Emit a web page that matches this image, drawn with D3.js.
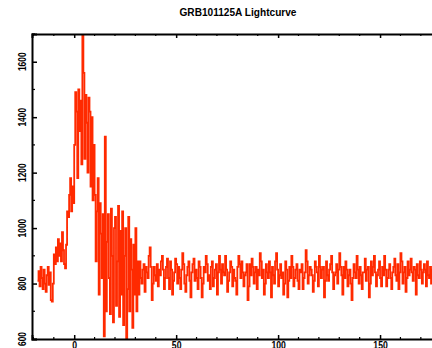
<!DOCTYPE html>
<html><head><meta charset="utf-8">
<script src="https://cdn.jsdelivr.net/npm/d3@7"></script>
<style>html,body{margin:0;padding:0;background:#fff;overflow:hidden}</style>
</head><body>
<script>
const title = "GRB101125A Lightcurve";
const startTime = -18;   // time of first bin (s)
const binSize = 0.5;     // s
const counts = [
  // -18 .. -8.5
  810, 845, 790, 860, 820, 780, 850, 800, 770, 830, 860, 795, 840, 740, 735, 800, 905, 870, 930, 880,
  // -8 .. -2.5
  960, 900, 945, 880, 985, 920, 870, 855, 940, 1060, 1040, 1120,
  // -2 .. -0.5
  1180, 1060, 1150, 1090,
  // 0 .. 9.5
  1300, 1490, 1420, 1180, 1500, 1350, 1460, 1230, 1720, 1560, 1250, 1480, 1380, 1200, 1470, 1420, 1150, 1400, 1100, 1300,
  // 10 .. 19.5
  1120, 880, 1060, 1180, 760, 1090, 980, 820, 1050, 610, 1330, 700, 950, 1050, 820, 690, 1070, 900, 660, 1000,
  // 20 .. 31.5
  1040, 720, 880, 1080, 680, 990, 760, 1060, 650, 900, 1000, 600, 780, 1040, 700, 960, 850, 640, 940, 760, 1000, 700, 880, 760,
  // 32 ..
  880, 820, 800, 850, 870, 770, 860, 840, 820, 900, 930, 860, 740, 800, 860, 830, 810, 870, 790, 850,
  830, 880, 900, 850, 780, 820, 860, 890, 820, 780, 880, 850, 760, 810, 840, 890, 870, 800, 860, 820,
  780, 850, 910, 870, 800, 770, 830, 860, 880, 810, 750, 840, 870, 890, 810, 850, 820, 780, 880, 860,
  820, 750, 800, 860, 840, 900, 870, 810, 830, 780, 860, 880, 790, 820, 850, 870, 760, 840, 900, 850,
  800, 870, 840, 830, 900, 850, 770, 810, 840, 880, 860, 790, 850, 820, 810, 760, 860, 900, 870, 820,
  880, 840, 790, 830, 840, 870, 740, 790, 870, 830, 890, 860, 800, 840, 860, 780, 850, 830, 910, 880,
  820, 850, 760, 800, 870, 840, 820, 880, 840, 750, 860, 830, 800, 880, 910, 850, 790, 830, 870, 820,
  840, 760, 800, 880, 850, 750, 810, 860, 820, 900, 860, 790, 820, 850, 870, 810, 780, 850, 840, 870,
  780, 820, 840, 920, 880, 800, 830, 860, 850, 830, 770, 810, 880, 860, 840, 790, 900, 860, 820, 850,
  860, 750, 810, 880, 830, 810, 850, 870, 900, 840, 780, 830, 840, 870, 800, 850, 910, 860, 830, 760,
  860, 820, 880, 850, 790, 830, 850, 800, 740, 820, 870, 840, 820, 900, 850, 800, 860, 830, 780, 840,
  840, 890, 810, 850, 860, 750, 800, 880, 830, 860, 900, 840, 790, 830, 850, 880, 820, 790, 860, 830,
  900, 850, 790, 820, 850, 870, 820, 780, 840, 860, 890, 830, 810, 870, 780, 840, 910, 880, 800, 840,
  860, 770, 820, 880, 830, 850, 890, 840, 810, 860, 850, 760, 870, 830, 820, 880, 850, 800, 840, 870,
  850, 790, 880, 830, 820, 860, 800, 850, 870, 820, 840, 880
];
const xMajorTicks = [0, 50, 100, 150];
const yMajorTicks = [600, 800, 1000, 1200, 1400, 1600];

const W = 432, H = 348;
const mLeft = 32, mTop = 34, mBottom = 339, mRight = 482;
const svg = d3.select("body").append("svg").attr("width", W).attr("height", H);

const x = d3.scaleLinear().domain([-20.7, 200]).range([mLeft, mRight]);
const y = d3.scaleLinear().domain([600, 1700]).range([mBottom, mTop]);

const data = counts.map((v, i) => ({t: startTime + i * binSize, v}));

svg.append("defs").append("clipPath").attr("id", "clip")
  .append("rect").attr("x", mLeft).attr("y", mTop).attr("width", mRight - mLeft).attr("height", mBottom - mTop);

const line = d3.line().x(d => x(d.t)).y(d => y(d.v)).curve(d3.curveStepAfter);
svg.append("path").datum(data).attr("clip-path", "url(#clip)")
  .attr("d", line).attr("fill", "none").attr("stroke", "#ff2a00")
  .attr("stroke-width", 1.8).attr("stroke-linejoin", "miter");

const xMinor = d3.range(-20, 201, 10).filter(v => !xMajorTicks.includes(v));
const yMinor = d3.range(700, 1701, 100).filter(v => !yMajorTicks.includes(v));

const fontFam = "Liberation Sans, Arial, sans-serif";

const axB = svg.append("g").attr("transform", `translate(0,${mBottom})`)
  .call(d3.axisBottom(x).tickValues(xMajorTicks).tickSize(-4).tickFormat(d3.format("d")).tickPadding(3));
const axT = svg.append("g").attr("transform", `translate(0,${mTop})`)
  .call(d3.axisTop(x).tickValues(xMajorTicks).tickSize(-4).tickFormat(""));
const axL = svg.append("g").attr("transform", `translate(${mLeft},0)`)
  .call(d3.axisLeft(y).tickValues(yMajorTicks).tickSize(-5).tickFormat(""));

[axB, axT, axL].forEach(g => {
  g.select(".domain").attr("stroke", "#000").attr("stroke-width", 2);
  g.selectAll(".tick line").attr("stroke", "#000").attr("stroke-width", 1.5);
});
axB.selectAll(".tick text").attr("font-family", fontFam)
  .attr("font-size", 10).attr("font-weight", "bold").attr("fill", "#000")
  .attr("dy", "0.71em")
  .attr("textLength", d => String(d).length * 4.8).attr("lengthAdjust", "spacingAndGlyphs");

svg.append("g").selectAll("line").data(xMinor).join("line")
  .attr("x1", d => x(d)).attr("x2", d => x(d)).attr("y1", mBottom).attr("y2", mBottom - 2)
  .attr("stroke", "#000").attr("stroke-width", 1.2);
svg.append("g").selectAll("line").data(xMinor).join("line")
  .attr("x1", d => x(d)).attr("x2", d => x(d)).attr("y1", mTop).attr("y2", mTop + 2)
  .attr("stroke", "#000").attr("stroke-width", 1.2);
svg.append("g").selectAll("line").data(yMinor).join("line")
  .attr("x1", mLeft).attr("x2", mLeft + 3).attr("y1", d => y(d)).attr("y2", d => y(d))
  .attr("stroke", "#000").attr("stroke-width", 1.2);

svg.append("g").selectAll("text").data(yMajorTicks).join("text")
  .attr("transform", d => `translate(25.5,${y(d)}) rotate(-90)`)
  .attr("text-anchor", "middle")
  .attr("font-family", fontFam)
  .attr("font-size", 11).attr("font-weight", "bold").attr("fill", "#000")
  .attr("textLength", d => String(d).length * 4.7).attr("lengthAdjust", "spacingAndGlyphs")
  .text(d => d);

svg.append("text").attr("x", 238).attr("y", 16).attr("text-anchor", "middle")
  .attr("font-family", fontFam)
  .attr("font-size", 10).attr("font-weight", "bold").attr("fill", "#000")
  .attr("textLength", 117).attr("lengthAdjust", "spacingAndGlyphs")
  .text(title);
</script>
</body></html>
